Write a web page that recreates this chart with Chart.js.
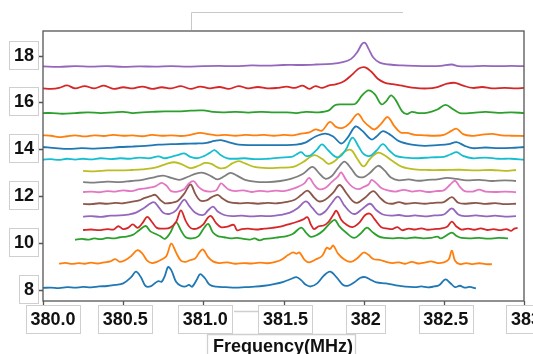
<!DOCTYPE html>
<html>
<head>
<meta charset="utf-8">
<script src="https://cdn.jsdelivr.net/npm/chart.js@4.4.0/dist/chart.umd.min.js"></script>
<style>
  html, body { margin: 0; padding: 0; background: #fff; }
  #chart { display: block; }
</style>
</head>
<body>
<canvas id="chart" width="533" height="354"></canvas>
<script>
// ---------- Data (frequency MHz, offset intensity) ----------
const xTicks = [380.0, 380.5, 381.0, 381.5, 382.0, 382.5, 383.0];
const xTickLabels = ['380.0', '380.5', '381.0', '381.5', '382', '382.5', '383'];
const yTicks = [8, 10, 12, 14, 16, 18];
const yTickLabels = ['8', '10', '12', '14', '16', '18'];
const xTitle = 'Frequency(MHz)';

const s01 = [[380.00,8.09],[380.05,8.10],[380.10,8.08],[380.15,8.12],[380.20,8.10],[380.25,8.13],[380.30,8.11],[380.35,8.15],[380.40,8.17],[380.45,8.22],[380.50,8.28],[380.55,8.55],[380.58,8.78],[380.61,8.55],[380.64,8.17],[380.67,8.15],[380.70,8.30],[380.72,8.38],[380.74,8.35],[380.76,8.6],[380.78,8.98],[380.80,8.85],[380.83,8.35],[380.86,8.18],[380.89,8.15],[380.91,8.22],[380.93,8.14],[380.96,8.45],[380.98,8.68],[381.01,8.5],[381.04,8.22],[381.08,8.14],[381.14,8.12],[381.20,8.10],[381.26,8.12],[381.32,8.14],[381.38,8.18],[381.44,8.25],[381.50,8.35],[381.55,8.48],[381.58,8.55],[381.61,8.42],[381.64,8.22],[381.67,8.15],[381.71,8.28],[381.75,8.6],[381.79,8.78],[381.83,8.55],[381.87,8.22],[381.90,8.18],[381.94,8.32],[381.98,8.52],[382.01,8.55],[382.04,8.45],[382.08,8.32],[382.14,8.28],[382.20,8.2],[382.26,8.14],[382.32,8.12],[382.36,8.15],[382.40,8.11],[382.44,8.15],[382.47,8.2],[382.51,8.45],[382.54,8.3],[382.57,8.12],[382.60,8.18],[382.63,8.1],[382.66,8.13],[382.70,8.07]];
const s02 = [[380.10,9.12],[380.14,9.16],[380.18,9.11],[380.22,9.15],[380.26,9.12],[380.30,9.17],[380.34,9.13],[380.38,9.18],[380.42,9.22],[380.45,9.32],[380.48,9.2],[380.52,9.3],[380.55,9.45],[380.59,9.7],[380.62,9.55],[380.65,9.25],[380.68,9.15],[380.71,9.2],[380.74,9.3],[380.77,9.45],[380.80,9.98],[380.83,9.6],[380.86,9.25],[380.89,9.2],[380.92,9.28],[380.95,9.35],[380.98,9.65],[381.00,9.72],[381.03,9.4],[381.06,9.22],[381.10,9.15],[381.15,9.18],[381.20,9.12],[381.25,9.15],[381.30,9.13],[381.35,9.17],[381.40,9.14],[381.45,9.2],[381.49,9.3],[381.53,9.5],[381.56,9.6],[381.58,9.55],[381.60,9.6],[381.63,9.3],[381.66,9.18],[381.70,9.3],[381.74,9.45],[381.77,9.8],[381.79,9.75],[381.81,9.9],[381.84,9.55],[381.88,9.3],[381.92,9.2],[381.96,9.35],[382.00,9.6],[382.03,9.5],[382.06,9.32],[382.10,9.28],[382.14,9.2],[382.18,9.15],[382.22,9.18],[382.26,9.12],[382.30,9.2],[382.34,9.13],[382.38,9.17],[382.42,9.22],[382.46,9.15],[382.50,9.18],[382.53,9.3],[382.55,9.68],[382.57,9.25],[382.60,9.1],[382.64,9.15],[382.68,9.1],[382.72,9.14],[382.76,9.1],[382.80,9.1]];
const s03 = [[380.20,10.14],[380.24,10.18],[380.28,10.15],[380.32,10.2],[380.36,10.17],[380.40,10.22],[380.44,10.2],[380.48,10.25],[380.52,10.28],[380.56,10.35],[380.60,10.55],[380.64,10.73],[380.67,10.5],[380.70,10.4],[380.73,10.3],[380.76,10.18],[380.79,10.4],[380.83,10.88],[380.86,10.55],[380.89,10.25],[380.93,10.2],[380.97,10.3],[381.00,10.6],[381.03,10.82],[381.06,10.45],[381.09,10.3],[381.13,10.25],[381.17,10.2],[381.21,10.22],[381.25,10.18],[381.29,10.15],[381.32,10.2],[381.35,10.12],[381.38,10.18],[381.42,10.2],[381.47,10.25],[381.52,10.3],[381.56,10.4],[381.61,10.66],[381.64,10.45],[381.67,10.27],[381.71,10.35],[381.75,10.55],[381.79,10.85],[381.82,10.99],[381.85,10.7],[381.89,10.45],[381.94,10.22],[381.98,10.4],[382.02,10.66],[382.05,10.5],[382.09,10.3],[382.13,10.22],[382.18,10.2],[382.22,10.22],[382.27,10.2],[382.32,10.24],[382.37,10.2],[382.42,10.22],[382.46,10.28],[382.48,10.2],[382.51,10.3],[382.55,10.45],[382.58,10.3],[382.61,10.22],[382.66,10.2],[382.72,10.22],[382.78,10.19],[382.84,10.22],[382.90,10.2]];
const s04 = [[380.25,10.56],[380.30,10.58],[380.35,10.55],[380.40,10.6],[380.44,10.58],[380.47,10.72],[380.50,10.6],[380.53,10.65],[380.56,10.8],[380.59,10.65],[380.62,10.85],[380.65,11.12],[380.68,10.9],[380.71,10.65],[380.75,10.62],[380.79,10.65],[380.83,10.9],[380.86,11.4],[380.89,10.95],[380.92,10.65],[380.96,10.62],[381.00,10.8],[381.03,11.1],[381.05,11.15],[381.08,10.85],[381.11,10.68],[381.15,10.7],[381.19,10.78],[381.21,10.55],[381.24,10.6],[381.28,10.62],[381.33,10.58],[381.38,10.62],[381.43,10.65],[381.48,10.7],[381.53,10.8],[381.58,10.9],[381.62,11.0],[381.65,11.1],[381.67,10.8],[381.69,10.6],[381.72,10.72],[381.75,10.75],[381.78,10.9],[381.81,11.2],[381.83,11.38],[381.86,11.0],[381.89,10.8],[381.93,10.68],[381.97,10.85],[382.01,11.2],[382.04,11.25],[382.07,11.0],[382.11,10.68],[382.15,10.62],[382.18,10.6],[382.21,10.68],[382.24,10.55],[382.28,10.62],[382.32,10.58],[382.36,10.63],[382.40,10.57],[382.44,10.6],[382.48,10.62],[382.52,10.7],[382.55,10.92],[382.58,10.7],[382.61,10.58],[382.65,10.62],[382.69,10.57],[382.73,10.63],[382.77,10.56],[382.81,10.6],[382.85,10.55],[382.89,10.6],[382.92,10.52],[382.94,10.62],[382.96,10.65]];
const s05 = [[380.25,11.13],[380.30,11.15],[380.36,11.12],[380.42,11.17],[380.48,11.18],[380.53,11.22],[380.58,11.3],[380.63,11.5],[380.69,11.75],[380.72,11.55],[380.75,11.3],[380.79,11.25],[380.83,11.4],[380.88,11.85],[380.91,11.6],[380.95,11.3],[381.00,11.2],[381.03,11.4],[381.06,11.56],[381.09,11.35],[381.13,11.2],[381.18,11.15],[381.24,11.17],[381.30,11.14],[381.36,11.16],[381.42,11.15],[381.48,11.2],[381.54,11.3],[381.59,11.5],[381.64,11.78],[381.68,11.5],[381.72,11.22],[381.76,11.35],[381.80,11.7],[381.84,11.98],[381.88,11.6],[381.92,11.3],[381.95,11.25],[381.99,11.45],[382.04,11.68],[382.08,11.4],[382.12,11.22],[382.17,11.17],[382.22,11.2],[382.27,11.15],[382.32,11.18],[382.38,11.14],[382.44,11.18],[382.50,11.22],[382.55,11.48],[382.59,11.22],[382.63,11.15],[382.70,11.18],[382.76,11.14],[382.82,11.17],[382.88,11.13],[382.95,11.15]];
const s06 = [[380.25,11.67],[380.30,11.66],[380.35,11.7],[380.40,11.68],[380.45,11.72],[380.50,11.7],[380.55,11.76],[380.60,11.82],[380.63,11.92],[380.67,12.0],[380.70,12.06],[380.73,11.85],[380.76,11.7],[380.80,11.72],[380.84,11.8],[380.88,12.1],[380.92,12.5],[380.95,12.1],[380.98,11.82],[381.02,11.82],[381.05,11.95],[381.09,12.06],[381.12,11.9],[381.16,11.75],[381.22,11.7],[381.28,11.72],[381.34,11.68],[381.40,11.72],[381.46,11.7],[381.52,11.76],[381.57,11.85],[381.61,12.05],[381.65,12.24],[381.69,11.95],[381.72,11.78],[381.76,11.85],[381.81,12.15],[381.85,12.48],[381.89,12.15],[381.93,11.8],[381.96,11.72],[382.01,11.95],[382.06,12.22],[382.10,11.95],[382.14,11.72],[382.18,11.68],[382.22,11.75],[382.26,11.68],[382.32,11.72],[382.38,11.68],[382.44,11.72],[382.50,11.75],[382.55,11.96],[382.59,11.72],[382.64,11.68],[382.70,11.72],[382.76,11.67],[382.82,11.71],[382.88,11.66],[382.95,11.68]];
const s07 = [[380.25,12.18],[380.30,12.2],[380.35,12.17],[380.40,12.22],[380.45,12.2],[380.50,12.25],[380.55,12.22],[380.60,12.3],[380.65,12.35],[380.70,12.42],[380.74,12.57],[380.77,12.45],[380.80,12.22],[380.84,12.2],[380.88,12.3],[380.91,12.55],[380.94,12.64],[380.97,12.4],[381.00,12.25],[381.04,12.2],[381.08,12.25],[381.11,12.55],[381.13,12.45],[381.16,12.28],[381.20,12.22],[381.25,12.25],[381.30,12.18],[381.35,12.23],[381.40,12.2],[381.45,12.24],[381.50,12.22],[381.55,12.3],[381.59,12.4],[381.63,12.55],[381.66,12.78],[381.69,12.5],[381.72,12.3],[381.76,12.35],[381.80,12.6],[381.84,12.85],[381.86,13.02],[381.89,12.7],[381.93,12.4],[381.97,12.3],[382.00,12.4],[382.03,12.5],[382.05,12.7],[382.08,12.55],[382.11,12.35],[382.15,12.25],[382.20,12.2],[382.25,12.27],[382.30,12.2],[382.35,12.24],[382.40,12.18],[382.45,12.22],[382.50,12.25],[382.54,12.5],[382.57,12.66],[382.60,12.4],[382.63,12.22],[382.68,12.2],[382.72,12.28],[382.76,12.2],[382.82,12.18],[382.88,12.2],[382.95,12.17]];
const s08 = [[380.25,12.6],[380.32,12.58],[380.40,12.62],[380.48,12.6],[380.55,12.65],[380.62,12.7],[380.70,12.82],[380.75,12.88],[380.80,12.78],[380.85,12.7],[380.90,12.82],[380.96,12.98],[381.00,13.0],[381.05,12.85],[381.09,12.72],[381.13,12.85],[381.17,13.0],[381.21,12.88],[381.26,12.7],[381.32,12.62],[381.40,12.6],[381.48,12.65],[381.55,12.75],[381.62,12.95],[381.68,13.25],[381.72,13.0],[381.76,12.75],[381.80,12.85],[381.84,13.2],[381.88,13.48],[381.92,13.2],[381.96,12.85],[382.00,12.82],[382.04,13.0],[382.09,13.3],[382.13,13.1],[382.17,12.8],[382.22,12.68],[382.28,12.72],[382.34,12.66],[382.40,12.7],[382.46,12.72],[382.52,12.78],[382.58,12.74],[382.64,12.68],[382.72,12.7],[382.80,12.65],[382.88,12.68],[382.95,12.65]];
const s09 = [[380.25,13.08],[380.32,13.06],[380.40,13.1],[380.48,13.1],[380.55,13.12],[380.62,13.15],[380.70,13.22],[380.77,13.38],[380.82,13.45],[380.87,13.35],[380.92,13.2],[380.97,13.3],[381.01,13.42],[381.05,13.38],[381.10,13.2],[381.14,13.22],[381.18,13.4],[381.22,13.5],[381.26,13.4],[381.32,13.25],[381.40,13.2],[381.48,13.22],[381.56,13.25],[381.62,13.45],[381.69,13.75],[381.74,13.6],[381.78,13.38],[381.82,13.5],[381.87,13.85],[381.92,13.98],[381.96,13.6],[382.00,13.27],[382.04,13.6],[382.09,13.86],[382.13,13.75],[382.18,13.5],[382.24,13.25],[382.32,13.15],[382.40,13.12],[382.50,13.12],[382.60,13.13],[382.70,13.1],[382.80,13.12],[382.88,13.08],[382.95,13.12]];
const s10 = [[380.00,13.56],[380.05,13.58],[380.10,13.55],[380.15,13.6],[380.20,13.56],[380.25,13.6],[380.30,13.57],[380.36,13.62],[380.42,13.58],[380.48,13.62],[380.54,13.6],[380.60,13.65],[380.66,13.62],[380.72,13.7],[380.76,13.62],[380.80,13.68],[380.84,13.75],[380.88,13.83],[380.92,13.68],[380.96,13.62],[381.00,13.7],[381.04,13.85],[381.07,13.97],[381.11,13.75],[381.15,13.62],[381.20,13.6],[381.26,13.62],[381.32,13.58],[381.40,13.6],[381.48,13.65],[381.55,13.68],[381.58,13.78],[381.61,13.88],[381.64,13.72],[381.67,13.75],[381.71,14.0],[381.74,14.21],[381.78,13.95],[381.82,13.7],[381.85,13.68],[381.89,14.0],[381.93,14.5],[381.97,14.1],[382.00,13.8],[382.04,13.72],[382.08,13.95],[382.12,14.22],[382.16,13.95],[382.20,13.72],[382.26,13.65],[382.34,13.62],[382.42,13.66],[382.50,13.68],[382.54,13.78],[382.58,13.88],[382.62,13.72],[382.68,13.62],[382.76,13.65],[382.84,13.6],[382.92,13.6],[383.00,13.56]];
const s11 = [[380.00,14.1],[380.08,14.05],[380.16,14.02],[380.24,14.05],[380.32,14.03],[380.40,14.06],[380.48,14.1],[380.56,14.12],[380.64,14.15],[380.72,14.2],[380.80,14.22],[380.88,14.24],[380.96,14.25],[381.02,14.28],[381.07,14.36],[381.11,14.39],[381.16,14.3],[381.22,14.2],[381.30,14.18],[381.40,14.18],[381.50,14.18],[381.58,14.2],[381.64,14.3],[381.70,14.55],[381.76,14.67],[381.81,14.55],[381.86,14.25],[381.90,14.5],[381.95,14.98],[381.99,14.8],[382.05,14.42],[382.08,14.55],[382.12,14.78],[382.17,14.6],[382.22,14.35],[382.30,14.2],[382.38,14.15],[382.46,14.18],[382.53,14.22],[382.58,14.31],[382.63,14.15],[382.68,14.05],[382.76,14.08],[382.84,14.05],[382.92,14.06],[383.00,14.1]];
const s12 = [[380.00,14.6],[380.05,14.58],[380.10,14.52],[380.15,14.56],[380.20,14.6],[380.26,14.55],[380.32,14.6],[380.38,14.57],[380.44,14.62],[380.50,14.58],[380.56,14.6],[380.62,14.56],[380.68,14.62],[380.74,14.58],[380.80,14.6],[380.86,14.57],[380.92,14.62],[380.98,14.7],[381.02,14.66],[381.08,14.6],[381.14,14.62],[381.20,14.58],[381.26,14.62],[381.32,14.6],[381.38,14.62],[381.44,14.58],[381.50,14.62],[381.56,14.6],[381.62,14.68],[381.66,14.72],[381.70,14.85],[381.74,14.8],[381.79,15.17],[381.83,14.95],[381.87,14.92],[381.91,15.1],[381.95,15.45],[381.97,15.5],[382.00,15.2],[382.04,14.95],[382.07,14.85],[382.11,15.1],[382.15,15.38],[382.19,15.0],[382.23,14.72],[382.27,14.7],[382.32,14.62],[382.38,14.6],[382.44,14.58],[382.50,14.62],[382.55,14.8],[382.58,14.88],[382.62,14.65],[382.67,14.58],[382.73,14.62],[382.80,14.66],[382.86,14.6],[382.92,14.58],[383.00,14.57]];
const s13 = [[380.00,15.55],[380.06,15.55],[380.12,15.52],[380.20,15.55],[380.28,15.58],[380.36,15.55],[380.44,15.58],[380.50,15.6],[380.56,15.55],[380.62,15.58],[380.68,15.6],[380.76,15.62],[380.84,15.62],[380.92,15.65],[381.00,15.66],[381.06,15.6],[381.12,15.58],[381.20,15.6],[381.28,15.57],[381.36,15.6],[381.44,15.58],[381.52,15.58],[381.58,15.55],[381.64,15.6],[381.72,15.58],[381.78,15.65],[381.82,15.88],[381.86,15.92],[381.92,15.92],[381.95,15.95],[381.99,16.3],[382.03,16.52],[382.07,16.35],[382.11,15.92],[382.14,16.05],[382.17,16.3],[382.20,16.1],[382.24,15.62],[382.27,15.5],[382.30,15.6],[382.34,15.55],[382.40,15.57],[382.46,15.7],[382.51,15.9],[382.56,15.7],[382.60,15.55],[382.68,15.56],[382.76,15.6],[382.84,15.56],[382.92,15.58],[383.00,15.55]];
const s14 = [[380.00,16.6],[380.05,16.58],[380.10,16.62],[380.15,16.73],[380.20,16.6],[380.26,16.7],[380.32,16.6],[380.38,16.72],[380.44,16.58],[380.50,16.65],[380.56,16.6],[380.62,16.68],[380.68,16.58],[380.74,16.65],[380.80,16.6],[380.86,16.7],[380.92,16.58],[380.98,16.68],[381.04,16.6],[381.10,16.66],[381.16,16.58],[381.22,16.7],[381.28,16.6],[381.34,16.66],[381.40,16.6],[381.46,16.62],[381.52,16.68],[381.57,16.62],[381.62,16.72],[381.66,16.58],[381.70,16.7],[381.74,16.62],[381.78,16.72],[381.83,16.78],[381.88,16.92],[381.93,17.2],[381.97,17.45],[382.01,17.5],[382.05,17.3],[382.09,17.0],[382.13,16.85],[382.18,16.78],[382.25,16.7],[382.32,16.62],[382.40,16.6],[382.46,16.66],[382.52,16.8],[382.57,16.84],[382.62,16.72],[382.68,16.62],[382.74,16.66],[382.80,16.6],[382.88,16.62],[382.95,16.6],[383.00,16.62]];
const s15 = [[380.00,17.54],[380.10,17.52],[380.20,17.55],[380.30,17.53],[380.40,17.55],[380.50,17.52],[380.60,17.54],[380.70,17.53],[380.80,17.55],[380.90,17.53],[381.00,17.55],[381.10,17.56],[381.20,17.55],[381.30,17.58],[381.40,17.57],[381.50,17.6],[381.60,17.6],[381.70,17.62],[381.80,17.65],[381.87,17.72],[381.92,17.85],[381.96,18.15],[381.99,18.5],[382.01,18.54],[382.03,18.3],[382.06,17.92],[382.10,17.7],[382.16,17.62],[382.24,17.58],[382.32,17.56],[382.40,17.55],[382.48,17.56],[382.55,17.62],[382.59,17.55],[382.66,17.54],[382.75,17.56],[382.84,17.55],[382.92,17.56],[383.00,17.55]];

const seriesList = [s01, s02, s03, s04, s05, s06, s07, s08, s09, s10, s11, s12, s13, s14, s15];
const palette = ['#1f77b4', '#ff7f0e', '#2ca02c', '#d62728', '#9467bd',
                 '#8c564b', '#e377c2', '#7f7f7f', '#bcbd22', '#17becf'];

// ---------- Decorations: frame, boxed tick labels, axis title ----------
const LABEL_FONT = 'bold 18px "Liberation Sans", Arial, sans-serif';

function boxedText(ctx, text, cx, cy) {
  const w = ctx.measureText(text).width;
  const bw = w + 9, bh = 28;
  ctx.fillStyle = '#fff';
  ctx.fillRect(cx - bw / 2, cy - bh / 2, bw, bh);
  ctx.strokeStyle = '#cfcfcf';
  ctx.lineWidth = 1;
  ctx.strokeRect(Math.round(cx - bw / 2) + 0.5, Math.round(cy - bh / 2) + 0.5, Math.round(bw), bh);
  ctx.fillStyle = '#111';
  ctx.fillText(text, cx, cy + 1);
}

const decorPlugin = {
  id: 'decor',
  beforeDraw(chart) {
    const ctx = chart.ctx;
    ctx.save();
    ctx.fillStyle = '#fff';
    ctx.fillRect(0, 0, chart.width, chart.height);
    ctx.restore();
  },
  afterDraw(chart) {
    const ctx = chart.ctx;
    const a = chart.chartArea;
    const xs = chart.scales.x, ys = chart.scales.y;
    ctx.save();

    // stray bracket above the plot
    ctx.strokeStyle = '#c8c8c8';
    ctx.lineWidth = 1;
    ctx.beginPath();
    ctx.moveTo(191.5, 30);
    ctx.lineTo(191.5, 12.5);
    ctx.lineTo(403, 12.5);
    ctx.stroke();

    // frame
    ctx.strokeStyle = '#555';
    ctx.lineWidth = 1.3;
    ctx.strokeRect(a.left, a.top, a.right - a.left, a.bottom - a.top);

    // tick marks
    ctx.beginPath();
    xTicks.forEach(v => {
      const px = Math.round(xs.getPixelForValue(v)) + 0.5;
      ctx.moveTo(px, a.bottom);
      ctx.lineTo(px, a.bottom + 5);
    });
    yTicks.forEach(v => {
      const py = Math.round(ys.getPixelForValue(v)) + 0.5;
      ctx.moveTo(a.left, py);
      ctx.lineTo(a.left - 5, py);
    });
    ctx.stroke();

    ctx.font = LABEL_FONT;
    ctx.textAlign = 'center';
    ctx.textBaseline = 'middle';

    // axis title box (drawn first, partly covered by tick boxes)
    ctx.strokeStyle = '#cfcfcf';
    ctx.beginPath();
    ctx.moveTo(207.5, 354);
    ctx.lineTo(207.5, 334.5);
    ctx.lineTo(355.5, 334.5);
    ctx.lineTo(355.5, 354);
    ctx.moveTo(234, 311.5);
    ctx.lineTo(262, 311.5);
    ctx.stroke();

    // x tick labels
    xTicks.forEach((v, i) => {
      let px = xs.getPixelForValue(v) + 2;
      if (i === 0) px += 8;
      boxedText(ctx, xTickLabels[i], px, 319);
    });

    // y tick labels
    yTicks.forEach((v, i) => {
      const py = ys.getPixelForValue(v);
      const w = ctx.measureText(yTickLabels[i]).width;
      boxedText(ctx, yTickLabels[i], 38.5 - (w + 9) / 2, py - 1);
    });

    // x axis title
    ctx.fillStyle = '#111';
    ctx.textBaseline = 'alphabetic';
    ctx.fillText(xTitle, 283, 352);
    ctx.restore();
  }
};

// ---------- Chart ----------
const datasets = seriesList.map((pts, i) => ({
  data: pts.map(p => ({ x: p[0], y: p[1] })),
  borderColor: palette[i % palette.length],
  borderWidth: 1.8,
  pointRadius: 0,
  tension: 0.35,
  fill: false,
  order: seriesList.length - i
}));

new Chart(document.getElementById('chart'), {
  type: 'line',
  data: { datasets },
  options: {
    responsive: false,
    animation: false,
    layout: { padding: { left: 43, right: 9, top: 31, bottom: 53 } },
    plugins: { legend: { display: false }, tooltip: { enabled: false } },
    scales: {
      x: { type: 'linear', min: 380, max: 383, display: false },
      y: { type: 'linear', min: 7.53, max: 19.05, display: false }
    }
  },
  plugins: [decorPlugin]
});
</script>
</body>
</html>
